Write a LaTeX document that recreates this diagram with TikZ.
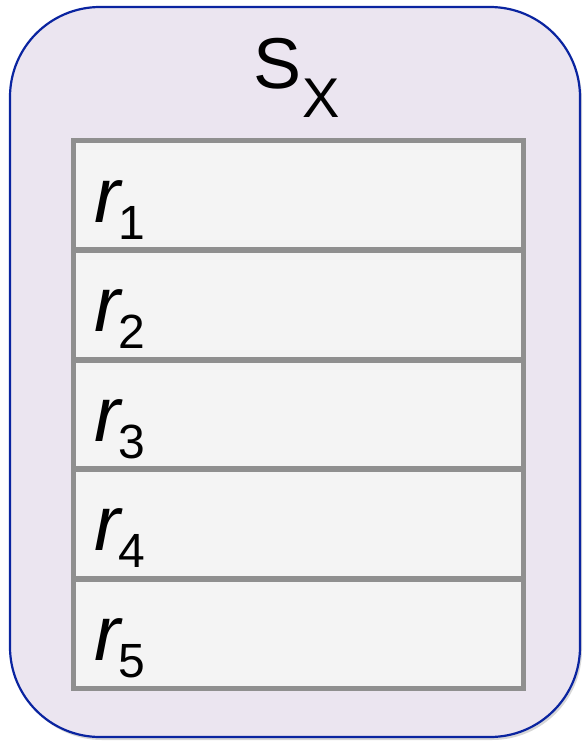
\documentclass[tikz,border=0pt]{standalone}
\usepackage{fontspec}
\setmainfont{Liberation Sans}
\definecolor{lav}{HTML}{EBE5F0}
\definecolor{bluedge}{HTML}{0A24A0}
\definecolor{rowfill}{HTML}{F4F4F4}
\definecolor{rowline}{HTML}{8F8F8F}
\tikzset{
  outerbox/.style={draw=bluedge, fill=lav, line width=2.2pt, rounded corners=90pt},
  rowbox/.style={draw=rowline, fill=rowfill, line width=5.8pt, minimum width=450pt, minimum height=109.6pt, inner sep=0pt, anchor=north west},
  rlabel/.style={anchor=base west, inner sep=0pt},
}
\newcommand{\rlab}[1]{\fontsize{78}{78}\selectfont\itshape r\kern-2pt\raisebox{-17pt}{\fontsize{48}{48}\selectfont\upshape #1}}
\begin{document}
\begin{tikzpicture}[x=1pt,y=-1pt]
\useasboundingbox (0,0) rectangle (582,742);
\fill[black!35, opacity=0.45, rounded corners=90pt] (12,10) rectangle (582,740);
\draw[outerbox] (10,7) rectangle (580,737);
\node[anchor=base west, inner sep=0pt] (title) at (253,88) {\fontsize{72}{72}\selectfont S\kern1pt\raisebox{-29pt}{\fontsize{56}{56}\selectfont X}};
\foreach \i in {1,...,5} {
  \node[rowbox] (row\i) at (70.5,{137.5+109.6*(\i-1)}) {};
  \node[rlabel] (lab\i) at (94,{222+109.6*(\i-1)}) {\rlab{\i}};
}
\end{tikzpicture}
\end{document}
